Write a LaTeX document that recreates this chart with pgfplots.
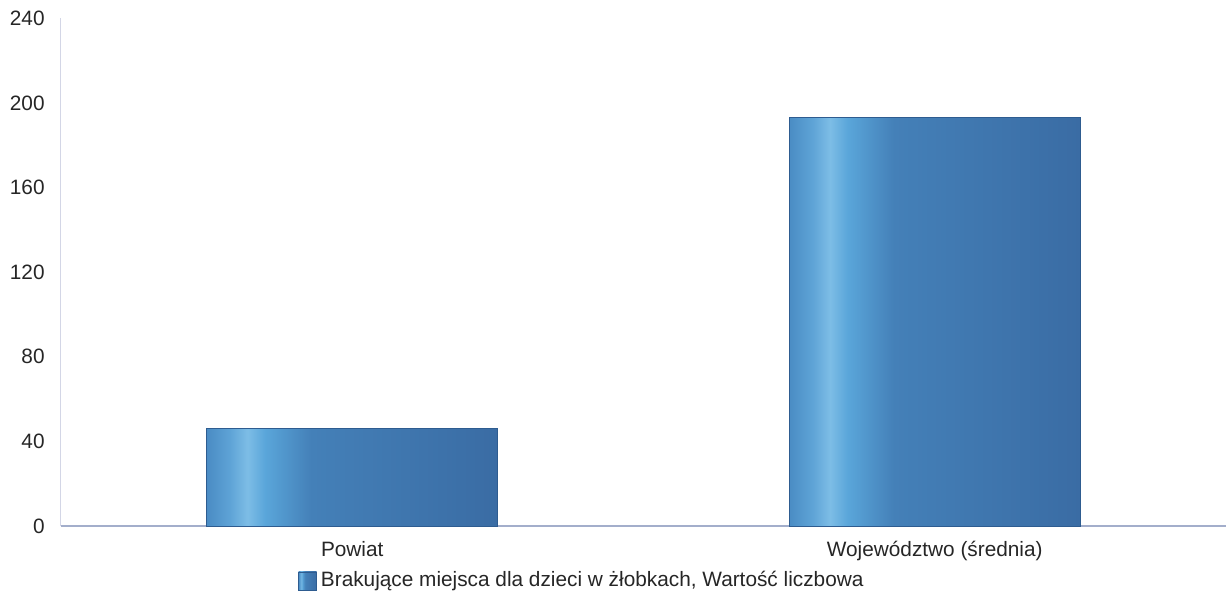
\documentclass[border=0pt]{standalone}
\usepackage{fontspec}
\setmainfont{Liberation Sans}
\usepackage{pgfplots}
\pgfplotsset{compat=1.18}
\definecolor{ylinec}{HTML}{D3D6E6}
\definecolor{xlinec}{HTML}{A3AECB}
\definecolor{barborder}{HTML}{2E5C90}
\definecolor{b0}{HTML}{4A8CC4}
\definecolor{b1}{HTML}{5EA3D6}
\definecolor{b2}{HTML}{7DBDE6}
\definecolor{b3}{HTML}{5AA6DA}
\definecolor{b4}{HTML}{4480B8}
\definecolor{b5}{HTML}{3A6CA4}
\pgfdeclarehorizontalshading{barshade}{100bp}{color(0bp)=(b0); color(25bp)=(b0); color(29bp)=(b1); color(32bp)=(b2); color(35bp)=(b3); color(43bp)=(b4); color(75bp)=(b5); color(100bp)=(b5)}
\begin{document}
\begin{tikzpicture}
\begin{axis}[
  name=ax,
  scale only axis,
  width=582.5pt, height=253.8pt,
  xmin=-0.5, xmax=1.5, ymin=0, ymax=240,
  ytick={0,40,...,240},
  xtick={0,1},
  xticklabels={Powiat, Województwo (średnia)},
  axis x line*=bottom, axis y line*=left,
  x axis line style={xlinec, line width=0.9pt},
  y axis line style={ylinec, line width=0.5pt},
  major tick length=0pt,
  /pgf/number format/assume math mode=true,
  ybar, bar width=0.5, bar shift=0pt,
  tick label style={font=\fontsize{10.4}{12}\selectfont, text=black!85},
  yticklabel style={inner sep=0pt, xshift=-8pt},
  xticklabel style={inner sep=0pt, yshift=-7.5pt},
  legend style={at={(0.2034,-0.108)}, anchor=west, draw=none, inner sep=0pt,
    font=\fontsize{10.4}{12}\selectfont, text=black!85},
  legend image code/.code={\fill[shade, shading=barshade, draw=barborder, line width=0.3pt] (0pt,-4.5pt) rectangle (9pt,4.5pt);},
]
\addplot[shade, shading=barshade, draw=barborder, line width=0.5pt] coordinates {(0,46)};
\addlegendentry{Brakujące miejsca dla dzieci w żłobkach, Wartość liczbowa}
\addplot[shade, shading=barshade, draw=barborder, line width=0.5pt, forget plot] coordinates {(1,193)};
\end{axis}
\pgfresetboundingbox
\path ([xshift=-30.5pt,yshift=-39.5pt]ax.south west) rectangle ([yshift=9.2pt]ax.north east);
\end{tikzpicture}
\end{document}
